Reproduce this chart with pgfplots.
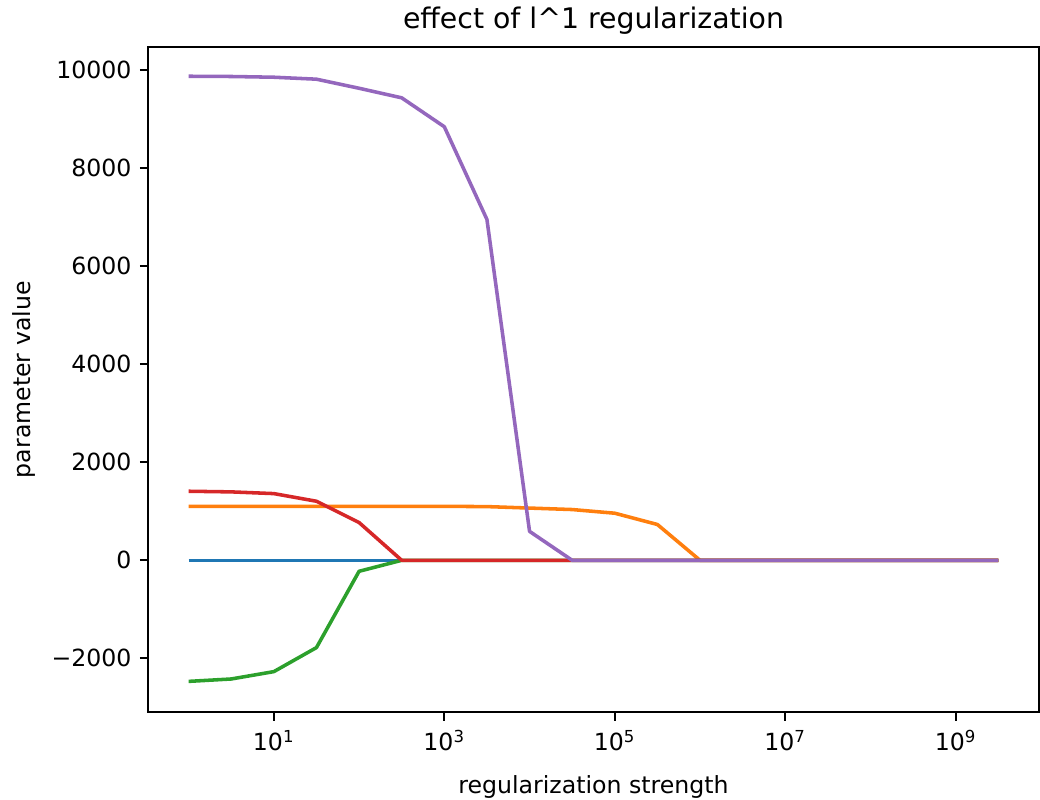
\documentclass[border=0pt]{standalone}
\usepackage{fontspec}
\setmainfont{DejaVu Sans}
\usepackage{pgfplots}
\usepackage{pgfplotstable}
\pgfplotsset{compat=1.18}
\definecolor{tabBlue}{HTML}{1F77B4}
\definecolor{tabOrange}{HTML}{FF7F0E}
\definecolor{tabGreen}{HTML}{2CA02C}
\definecolor{tabRed}{HTML}{D62728}
\definecolor{tabPurple}{HTML}{9467BD}

% regularization strength vs fitted parameters
\pgfplotstableread{
x          b   o     g      r     p
1          0   1100  -2469  1408  9870
3.1623     0   1100  -2420  1395  9865
10         0   1100  -2270  1360  9850
31.623     0   1100  -1780  1204  9810
100        0   1100  -224   770   9625
316.23     0   1100  0      0     9430
1000       0   1100  0      0     8840
3162.3     0   1095  0      0     6950
1e4        0   1065  0      0     590
31623      0   1035  0      0     0
1e5        0   960   0      0     0
316228     0   730   0      0     0
1e6        0   0     0      0     0
3.1623e6   0   0     0      0     0
1e7        0   0     0      0     0
3.1623e7   0   0     0      0     0
1e8        0   0     0      0     0
3.1623e8   0   0     0      0     0
1e9        0   0     0      0     0
3.1623e9   0   0     0      0     0
}\regdata

\begin{document}
\begin{tikzpicture}
\begin{axis}[
  name=main,
  scale only axis, width=377pt, height=281.6pt,
  xmode=log, log basis x=10,
  xmin=0.335, xmax=9.44e9, ymin=-3100, ymax=10466,
  xtick={10,1000,1e5,1e7,1e9},
  xticklabels={10\textsuperscript{1},10\textsuperscript{3},10\textsuperscript{5},10\textsuperscript{7},10\textsuperscript{9}},
  xminorticks=false,
  scaled y ticks=false,
  ytick={-2000,0,2000,4000,6000,8000,10000},
  yticklabels={−2000,0,2000,4000,6000,8000,10000},
  tick align=outside, major tick length=3.5pt,
  tick style={black, line width=0.8pt},
  axis line style={line width=0.8pt},
  xtick pos=bottom, ytick pos=left,
  tick label style={font=\fontsize{10}{12}\selectfont},
  xticklabel style={yshift=-0.5pt},
  label style={font=\fontsize{10}{12}\selectfont},
  xlabel={regularization strength},
  xlabel style={yshift=-3.5pt},
  ylabel={parameter value},
  title={effect of l\textasciicircum 1 regularization},
  title style={font=\fontsize{12}{14}\selectfont, yshift=-4pt},
  every axis plot/.append style={line width=1.5pt, line join=round, no markers},
]
\addplot[tabBlue] table[x=x, y=b] {\regdata};
\addplot[tabOrange] table[x=x, y=o] {\regdata};
\addplot[tabGreen] table[x=x, y=g] {\regdata};
\addplot[tabRed] table[x=x, y=r] {\regdata};
\addplot[tabPurple] table[x=x, y=p] {\regdata};
\end{axis}
\pgfresetboundingbox
\path[use as bounding box] ([xshift=-62.7pt,yshift=-36.8pt]main.south west) rectangle ([xshift=0.5pt,yshift=19.9pt]main.north east);
\end{tikzpicture}
\end{document}
